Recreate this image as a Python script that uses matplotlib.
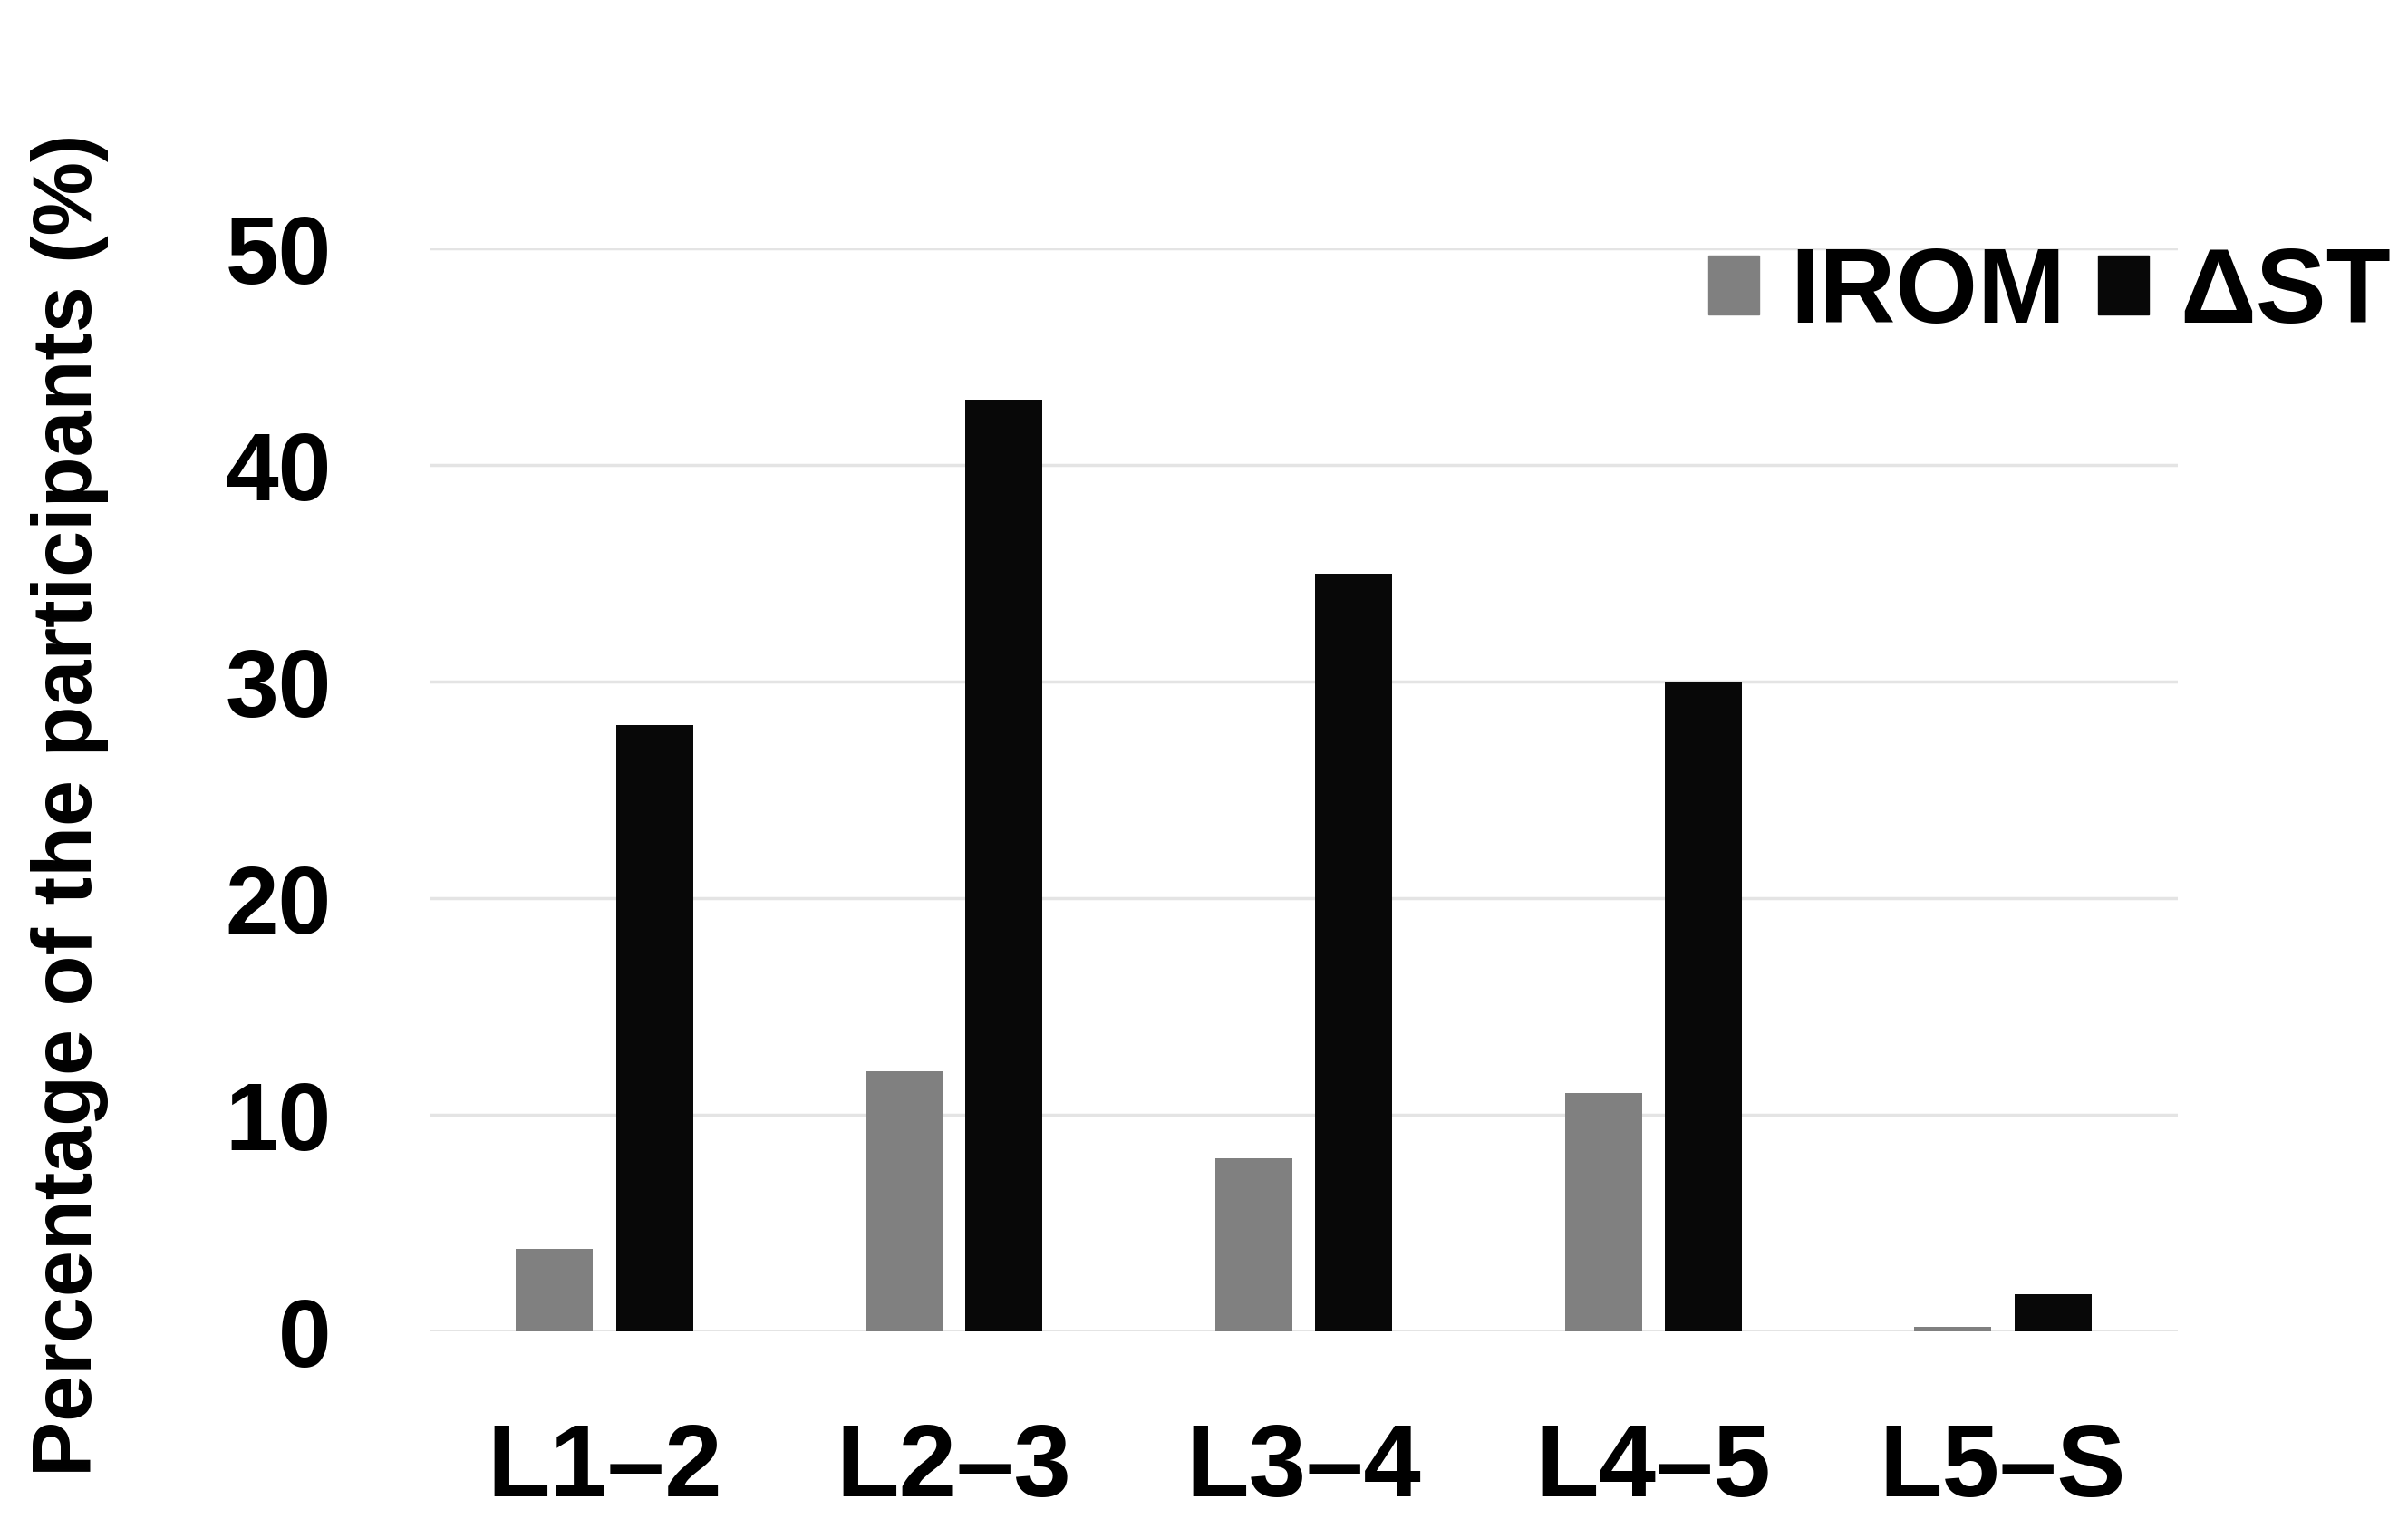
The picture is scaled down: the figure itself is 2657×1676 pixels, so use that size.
import numpy as np
import matplotlib
matplotlib.use("Agg")
import matplotlib.pyplot as plt
from matplotlib.patches import Patch

levels = ["L1\u20132", "L2\u20133", "L3\u20134", "L4\u20135", "L5\u2013S"]
irom = [3.8, 12.0, 8.0, 11.0, 0.2]
delta_st = [28.0, 43.0, 35.0, 30.0, 1.7]
yticks = [0, 10, 20, 30, 40, 50]

grey = "#808080"
black = "#080808"

plt.rcParams["font.family"] = ["Liberation Sans", "DejaVu Sans"]
plt.rcParams["font.weight"] = "bold"

fig = plt.figure(figsize=(26.57, 16.76), dpi=100)
ax = fig.add_axes([0.1784, 0.1235, 0.726, 0.713])

x = np.arange(len(levels))
w = 0.22
off = 0.143
ax.bar(x - off, irom, width=w, color=grey, zorder=3)
ax.bar(x + off, delta_st, width=w, color=black, zorder=3)

ax.set_xlim(-0.5, len(levels) - 0.5)
ax.set_ylim(0, 50)
ax.set_yticks(yticks)
ax.set_yticklabels([str(t) for t in yticks], fontsize=76, fontweight="bold")
ax.set_xticks(x)
ax.set_xticklabels(levels, fontsize=82, fontweight="bold")
ax.tick_params(axis="y", length=0, pad=78)
ax.tick_params(axis="x", length=0, pad=72)
ax.yaxis.grid(True, color="#e4e4e4", linewidth=2.5, zorder=0)
ax.set_axisbelow(True)
for s in ax.spines.values():
    s.set_visible(False)

fig.text(0.029, 0.47, "Percentage of the participants (%)", rotation=90,
         ha="center", va="center", fontsize=66, fontweight="bold")

handles = [Patch(color=grey), Patch(color=black)]
ax.legend(handles, ["IROM", "\u0394ST"], loc="center right",
          bbox_to_anchor=(0.993, 0.806), bbox_transform=fig.transFigure,
          ncol=2, frameon=False, prop={"size": 84, "weight": "bold"},
          handlelength=0.48, handleheight=0.48, handletextpad=0.3,
          columnspacing=0.3, borderpad=0, borderaxespad=0)

fig.savefig("out.png", dpi=100)
